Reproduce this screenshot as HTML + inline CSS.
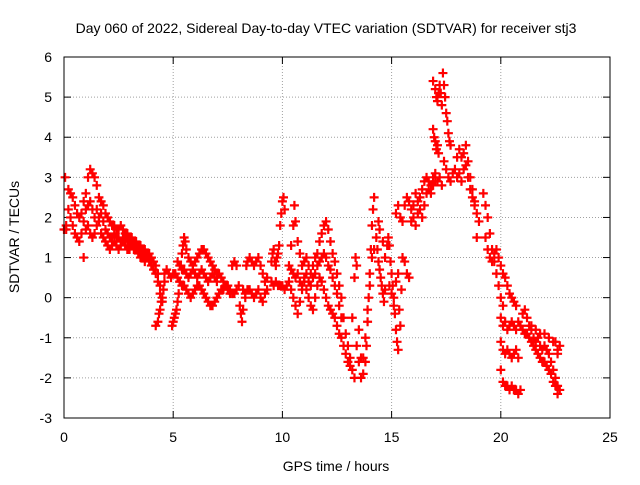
<!DOCTYPE html>
<html><head><meta charset="utf-8"><style>
body{margin:0;background:#fff}
svg text{font-family:"Liberation Sans",sans-serif;font-size:14px;fill:#000}
</style></head><body>
<svg id="chart" width="640" height="480" xmlns="http://www.w3.org/2000/svg">
<text x="326" y="33" text-anchor="middle">Day 060 of 2022, Sidereal Day-to-day VTEC variation (SDTVAR) for receiver stj3</text>
<g id="grid"></g>
<g id="ticks"></g>
<g id="marks"></g>
<rect x="64" y="57" width="546" height="361" fill="none" stroke="#000" stroke-width="1"/>
<text transform="translate(19,237) rotate(-90)" text-anchor="middle">SDTVAR / TECUs</text>
<text x="336" y="471" text-anchor="middle">GPS time / hours</text>
</svg>
<script>
const xTicks=[0,5,10,15,20,25];
const yTicks=[-3,-2,-1,0,1,2,3,4,5,6];
const t1=[0.0,0.1,0.2,0.3,0.4,0.5,0.6,0.7,0.8,0.9,1.0,1.1,1.2,1.3,1.4,1.5,1.6,1.7,1.8,1.9,2.0,2.1,2.2,2.3,2.4,2.5,2.6,2.7,2.8,2.9,3.0,3.1,3.2,3.3,3.4,3.5,3.6,3.7,3.8,3.9,4.0,4.1,4.2,4.3,4.4,0.05,0.9];
const v1=[1.7,1.8,2.7,2.6,2.5,2.3,2.1,2.0,2.1,2.4,2.6,3.0,3.2,3.1,3.0,2.8,2.5,2.4,2.3,2.1,2.0,1.9,1.8,1.8,1.7,1.7,1.8,1.7,1.6,1.6,1.5,1.5,1.4,1.4,1.3,1.3,1.2,1.2,1.1,1.1,1.0,0.9,0.8,0.6,0.3,3.0,1.0];
const t2=[0.1,0.2,0.3,0.4,0.5,0.6,0.7,0.8,0.9,1.0,1.1,1.2,1.3,1.4,1.5,1.6,1.7,1.8,1.9,2.0,2.1,2.2,2.3,2.4,2.5,2.6,2.7,2.8,2.9,3.0,3.1,3.2,3.3,3.4,3.5,3.6,3.7,3.8,3.9,4.0,4.1,4.2,4.3,4.4,4.5];
const v2=[1.7,2.2,2.0,1.8,1.6,1.5,1.4,1.6,1.9,2.2,2.3,2.4,2.2,2.0,2.2,1.9,1.6,1.5,1.4,1.3,1.2,1.3,1.4,1.3,1.2,1.3,1.4,1.3,1.2,1.2,1.3,1.2,1.2,1.1,1.0,1.0,0.9,1.0,0.9,0.8,0.7,0.6,0.4,0.1,-0.1];
const t3=[1.0,1.1,1.2,1.3,1.4,1.5,1.6,1.7,1.8,1.9,2.0,2.1,2.2,2.3,2.4,2.5,2.6,2.7,2.8,2.9,3.0,3.1,3.2,3.3,3.4,3.5,3.6,3.7,3.8,3.9,4.0];
const v3=[1.7,1.8,1.6,1.5,1.6,1.8,2.0,2.1,1.9,1.7,1.6,1.5,1.5,1.6,1.5,1.5,1.4,1.5,1.5,1.4,1.4,1.4,1.3,1.3,1.2,1.2,1.1,1.1,1.1,1.0,1.0];
const t4=[4.2,4.3,4.35,4.4,4.45,4.5,4.55,4.6];
const v4=[-0.7,-0.6,-0.4,-0.3,-0.1,0.0,0.2,0.4];
const t5=[4.6,4.7,4.8,4.9,5.0,5.1,5.2,5.3,5.4,5.5,5.6,5.7,5.8,5.9,6.0,6.1,6.2,6.3,6.4,6.5,6.6,6.7,6.8,6.9,7.0,7.1,7.2,7.3,7.4,7.5,7.6,7.7,7.8,7.9];
const v5=[0.6,0.7,0.6,0.5,0.6,0.6,0.5,0.4,0.3,0.3,0.2,0.1,0.0,0.1,0.2,0.3,0.3,0.2,0.1,0.0,-0.1,-0.2,-0.2,-0.1,0.0,0.1,0.2,0.2,0.3,0.3,0.2,0.1,0.1,0.2];
const t6=[4.95,5.0,5.05,5.1,5.15,5.2,5.25,5.3,5.35,5.4,5.45,5.5,5.55,5.6,5.7,5.8,5.9,6.0,6.1,6.2,6.3,6.4,6.5,6.6,6.7,6.8,6.9,7.0,7.1,7.2,7.3,7.4,7.5,7.6];
const v6=[-0.7,-0.6,-0.5,-0.4,-0.3,-0.1,0.1,0.4,0.8,1.1,1.3,1.5,1.4,1.2,1.0,0.9,0.8,0.9,1.0,1.1,1.2,1.2,1.1,1.0,0.9,0.8,0.7,0.6,0.6,0.5,0.4,0.3,0.2,0.1];
const t7=[5.2,5.3,5.4,5.5,5.6,5.7,5.8,5.9,6.0,6.1,6.2,6.3,6.4,6.5,6.6,6.7,6.8,6.9,7.0];
const v7=[0.9,0.8,0.7,0.7,0.6,0.5,0.6,0.7,0.6,0.5,0.6,0.7,0.6,0.5,0.4,0.5,0.6,0.5,0.4];
const t8=[7.7,7.8,7.9,8.0,8.05,8.1,8.15,8.2,8.3,8.35,8.4,8.5,8.6,8.7,8.8,8.9,9.0,9.1,9.2,9.3];
const v8=[0.8,0.9,0.8,0.3,-0.2,-0.4,-0.6,-0.3,0.0,0.8,0.9,1.0,0.9,0.8,0.9,1.0,0.8,0.6,0.4,0.5];
const t9=[8.2,8.3,8.4,8.5,8.6,8.7,8.8,8.9,9.0,9.1,9.2,9.3];
const v9=[0.2,0.1,0.2,0.2,0.1,0.0,0.1,0.2,0.0,-0.1,0.1,0.2];
const t10=[9.5,9.55,9.6,9.65,9.7,9.75,9.8,9.85,9.9,9.95,10.0,10.05,10.1];
const v10=[0.9,1.1,1.2,0.9,0.8,1.0,1.1,1.3,1.8,2.1,2.4,2.5,2.2];
const t11=[9.5,9.6,9.7,9.8,9.9,10.0,10.1,10.2];
const v11=[0.4,0.3,0.4,0.3,0.3,0.3,0.2,0.3];
const t12=[10.3,10.4,10.5,10.55,10.6,10.7,10.8,10.9,11.0,11.1,11.2,11.3,11.4,11.5,11.6,11.7,11.8,11.9,12.0,12.1,12.2,12.3,12.4,12.5,12.6,12.7,12.8,12.9,13.0,13.1,13.2,13.3];
const v12=[0.8,1.3,1.8,2.3,1.9,1.4,1.1,0.8,0.9,1.0,0.8,0.6,0.8,1.0,1.1,1.4,1.6,1.8,1.9,1.7,1.4,1.1,0.9,0.6,0.3,0.0,-0.5,-0.9,-1.2,-1.5,-1.8,-2.0];
const t13=[10.3,10.4,10.5,10.6,10.7,10.8,10.9,11.0,11.1,11.2,11.3,11.4,11.5,11.6,11.7,11.8,11.9,12.0,12.1,12.2,12.3,12.4,12.5,12.6,12.7,12.8,12.9,13.0,13.1];
const v13=[0.4,0.2,0.0,-0.2,-0.4,-0.1,0.2,0.4,0.2,0.0,-0.2,-0.3,0.0,0.3,0.5,0.4,0.2,0.0,-0.2,-0.3,-0.4,-0.5,-0.7,-0.9,-1.0,-1.2,-1.4,-1.6,-1.7];
const t14=[10.4,10.5,10.6,10.7,10.8,10.9,11.0,11.1,11.2,11.3,11.4,11.5,11.6,11.7,11.8,11.9,12.0,12.1,12.2,12.3,12.4,12.5,12.6,12.7];
const v14=[0.7,0.6,0.5,0.6,0.4,0.3,0.5,0.6,0.4,0.3,0.5,0.6,0.8,0.9,1.0,1.1,1.0,0.8,0.7,0.5,0.3,0.1,-0.2,-0.5];
const t15=[13.2,13.3,13.35,13.4,13.5,13.6,13.7,13.8,13.85,13.9,13.95,14.0,14.05,14.1,14.15,14.2];
const v15=[-0.5,0.5,1.0,0.8,-0.8,-1.5,-1.9,-1.6,-1.2,-0.6,0.0,0.6,1.2,1.8,2.2,2.5];
const t16=[13.4,13.5,13.6,13.7,13.8,13.9,14.0,14.1,14.2];
const v16=[-1.2,-1.6,-2.0,-1.5,-1.0,-0.3,0.3,1.0,1.2];
const t17=[14.3,14.35,14.4,14.45,14.5,14.55,14.6,14.65,14.7,14.8,14.85,14.9,14.95,15.0,15.05,15.1,15.15,15.2,15.25,15.3];
const v17=[1.5,1.2,0.9,0.7,0.5,0.3,0.1,-0.1,0.2,1.3,1.5,1.3,0.9,0.6,0.3,0.0,-0.4,-0.8,-1.1,-1.3];
const t17b=[14.4,14.45,14.6,14.7,14.9,15.0,15.1,15.2,15.3,15.35,15.4,15.45,15.5];
const v17b=[1.9,1.7,1.4,1.0,0.3,0.1,-0.2,0.4,0.6,-0.3,-0.7,0.2,1.0];
const t18=[15.2,15.3,15.4,15.5,15.6,15.7,15.8,15.9,16.0,16.1,16.2,16.3,16.4,16.5,16.6,16.7,16.8,16.9,17.0,17.1,17.2,17.3];
const v18=[2.1,2.3,2.0,1.9,2.3,2.5,2.4,2.2,2.0,1.8,2.1,2.5,2.7,2.9,3.0,2.9,2.8,3.0,3.1,2.9,3.0,2.8];
const t18b=[15.6,15.7,15.8,15.9,16.0,16.1,16.2,16.3,16.4,16.5,16.6,16.7,16.8,16.9,17.0];
const v18b=[0.9,0.6,0.5,1.9,2.3,2.6,2.4,2.2,2.0,2.3,2.6,2.7,2.6,2.8,2.9];
const t19=[16.9,17.0,17.05,17.1,17.15,17.2,17.25,17.3,17.35,17.4,17.45,17.5,17.55,17.6,17.65,17.7];
const v19=[5.4,5.2,5.0,4.9,5.1,5.3,5.1,4.8,5.6,5.3,5.0,4.6,4.4,4.1,3.9,3.8];
const t20=[16.9,16.95,17.0,17.05,17.1,17.15];
const v20=[4.2,4.0,3.9,3.7,3.8,3.6];
const t21=[17.4,17.5,17.6,17.7,17.8,17.9,18.0,18.1,18.2,18.3,18.4,18.5,18.6,18.7,18.8,18.9,19.0];
const v21=[3.4,3.2,3.0,2.9,3.1,3.2,3.5,3.7,3.5,3.6,3.8,3.4,3.0,2.7,2.4,2.1,1.9];
const t21b=[18.0,18.1,18.2,18.3,18.4,18.5,18.6,18.7,18.8,18.9];
const v21b=[3.0,3.1,2.9,3.2,3.3,3.0,2.7,2.5,2.3,1.5];
const t22=[19.2,19.3,19.4,19.5,19.6,19.7,19.8,19.9,20.0,20.1];
const v22=[2.6,2.3,2.0,1.6,1.2,0.9,0.6,0.3,0.0,-0.2];
const t22b=[19.3,19.4,19.5,19.6,19.7,19.8,19.9,20.0,20.1,20.2,20.3,20.4,20.5,20.6,20.7];
const v22b=[1.5,1.2,1.0,0.9,1.1,1.2,1.0,0.8,0.6,0.5,0.3,0.1,0.0,-0.1,-0.2];
const t23=[20.0,20.1,20.2,20.3,20.4,20.5,20.6,20.7,20.8,20.9];
const v23=[-0.5,-0.7,-0.6,-0.8,-0.7,-0.6,-0.7,-0.8,-0.6,-0.7];
const t23b=[20.0,20.1,20.2,20.3,20.4,20.5,20.6,20.7,20.8];
const v23b=[-1.1,-1.3,-1.4,-1.3,-1.4,-1.5,-1.4,-1.3,-1.5];
const t23c=[20.0,20.1,20.2,20.3,20.4,20.5,20.6,20.7,20.8,20.9];
const v23c=[-1.8,-2.1,-2.2,-2.2,-2.3,-2.2,-2.3,-2.3,-2.4,-2.3];
const t24=[21.0,21.1,21.2,21.3,21.4,21.5,21.6,21.7,21.8,21.9,22.0,22.1,22.2,22.3,22.4,22.5,22.6,22.7];
const v24=[-0.4,-0.3,-0.5,-0.7,-0.8,-1.0,-1.1,-1.0,-1.2,-1.3,-1.2,-1.3,-1.4,-1.6,-1.8,-2.0,-2.2,-2.3];
const t24b=[21.0,21.1,21.2,21.3,21.4,21.5,21.6,21.7,21.8,21.9,22.0,22.1,22.2,22.3,22.4,22.5,22.6,22.7,22.5,22.6];
const v24b=[-0.8,-0.9,-0.9,-1.0,-1.1,-1.2,-1.3,-1.4,-1.5,-1.6,-1.6,-1.7,-1.8,-1.9,-2.1,-2.2,-2.4,-1.2,-1.1,-1.4];
const t24c=[21.4,21.6,21.8,22.0,22.2,22.4,22.6];
const v24c=[-0.7,-0.8,-0.9,-0.9,-1.0,-1.1,-1.3];
const NS="http://www.w3.org/2000/svg";
const X=t=>64+t*(546/25);
const Y=v=>418-(v+3)*(361/9);
const grid=document.getElementById('grid'),ticks=document.getElementById('ticks'),marks=document.getElementById('marks');
function mk(tag,attrs,parent){const e=document.createElementNS(NS,tag);for(const k in attrs)e.setAttribute(k,attrs[k]);parent.appendChild(e);return e;}
xTicks.forEach(t=>{
  const x=X(t);
  if(t>0&&t<25){const g=mk('line',{x1:x,x2:x,y1:57,y2:418,stroke:'#a0a0a0','stroke-dasharray':'1,2'},grid);
  
  }
  mk('line',{x1:x,x2:x,y1:418,y2:411,stroke:'#000'},ticks);
  mk('line',{x1:x,x2:x,y1:57,y2:64,stroke:'#000'},ticks);
  const l=mk('text',{x:x,y:442,'text-anchor':'middle'},ticks);l.textContent=t;
  
  
});
yTicks.forEach(v=>{
  const y=Y(v);
  if(v>-3&&v<6){const g=mk('line',{x1:64,x2:610,y1:y,y2:y,stroke:'#a0a0a0','stroke-dasharray':'1,2'},grid);
  
  }
  mk('line',{x1:64,x2:71,y1:y,y2:y,stroke:'#000'},ticks);
  mk('line',{x1:610,x2:603,y1:y,y2:y,stroke:'#000'},ticks);
  const l=mk('text',{x:52,y:y+5,'text-anchor':'end'},ticks);l.textContent=v;
  
  
});
const strands=[[t1,v1],[t2,v2],[t3,v3],[t4,v4],[t5,v5],[t6,v6],[t7,v7],[t8,v8],[t9,v9],[t10,v10],[t11,v11],[t12,v12],[t13,v13],[t14,v14],[t15,v15],[t16,v16],[t17,v17],[t17b,v17b],[t18,v18],[t18b,v18b],[t19,v19],[t20,v20],[t21,v21],[t21b,v21b],[t22,v22],[t22b,v22b],[t23,v23],[t23b,v23b],[t23c,v23c],[t24,v24],[t24b,v24b],[t24c,v24c]];
strands.forEach(([ts,vs])=>{
  let d='';
  ts.forEach((t,i)=>{const x=X(t),y=Y(vs[i]);d+=`M${x-4.5},${y}h9M${x},${y-4.5}v9`;});
  const p=mk('path',{d:d,stroke:'#ff0000','stroke-width':2.2,fill:'none'},marks);
  
  
});
</script>
</body></html>
